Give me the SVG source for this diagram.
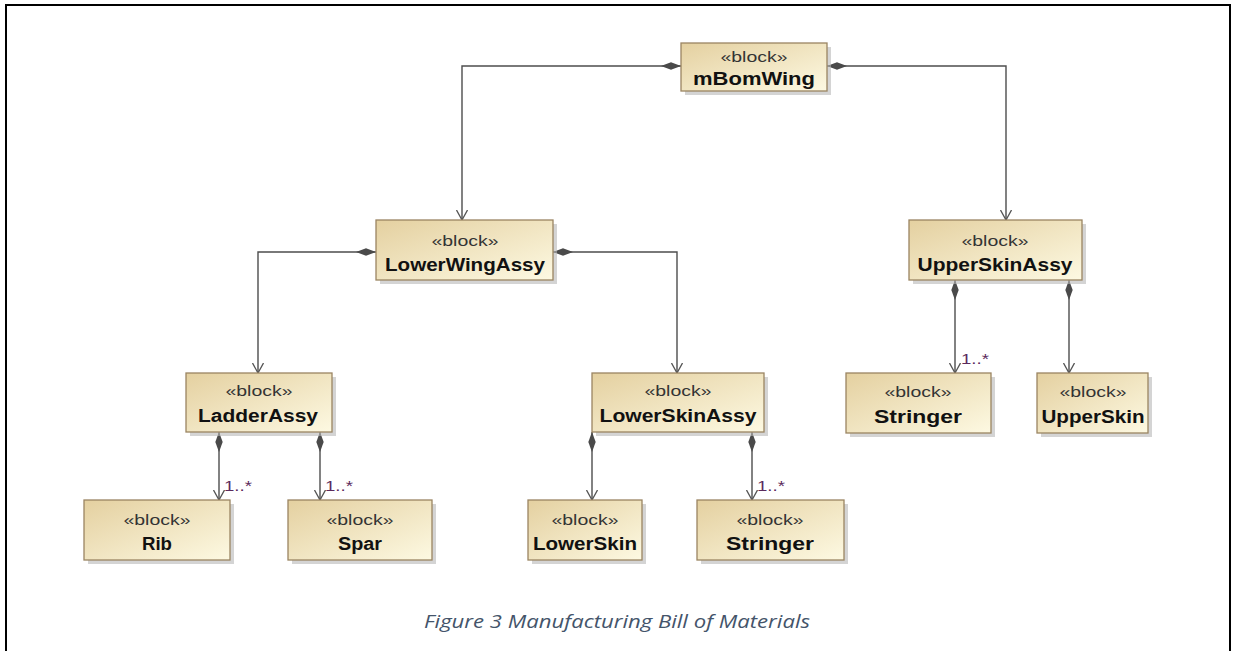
<svg xmlns="http://www.w3.org/2000/svg" width="1233" height="651" viewBox="0 0 1233 651">
<defs>
<linearGradient id="blk" x1="0" y1="0" x2="1" y2="1">
<stop offset="0" stop-color="#e4d0a0"/>
<stop offset="1" stop-color="#fdf9e2"/>
</linearGradient>
<marker id="dia" viewBox="0 0 20 8" refX="0" refY="4" markerWidth="20" markerHeight="8" markerUnits="userSpaceOnUse" orient="auto">
<path d="M0,4 L10,0.3 L20,4 L10,7.7 Z" fill="#4a4a4a"/>
</marker>
<marker id="arr" viewBox="0 0 10 12" refX="10" refY="6" markerWidth="10" markerHeight="12" markerUnits="userSpaceOnUse" orient="auto">
<path d="M0,0.5 L10,6 L0,11.5" fill="none" stroke="#555" stroke-width="1.3"/>
</marker>
</defs>
<style>
.box{fill:url(#blk);stroke:#9a8462;stroke-width:1.3}
.sh{fill:#b8b8b8;opacity:0.6}
.st{font-family:"Liberation Sans",Arial,sans-serif;font-size:15px;fill:#333;text-anchor:middle}
.nm{font-family:"Liberation Sans",Arial,sans-serif;font-size:18px;font-weight:bold;fill:#111;text-anchor:middle}
.ln{fill:none;stroke:#4d4d4d;stroke-width:1.4;marker-start:url(#dia);marker-end:url(#arr)}
.mul{font-family:"Liberation Sans",Arial,sans-serif;font-size:15px;fill:#5b2a5c}
</style>
<rect x="0" y="0" width="1233" height="651" fill="#fff"/>
<path d="M6,651 V5 H1230 V651" fill="none" stroke="#000" stroke-width="2"/>

<g id="connectors">
<path class="ln" d="M681,66 H462 V220"/>
<path class="ln" d="M827,66 H1006 V220"/>
<path class="ln" d="M376,252 H258 V373"/>
<path class="ln" d="M553,252 H677 V373"/>
<path class="ln" d="M219,432 V500"/>
<path class="ln" d="M320,432 V500"/>
<path class="ln" d="M592,432 V500"/>
<path class="ln" d="M752,432 V500"/>
<path class="ln" d="M955,280 V373"/>
<path class="ln" d="M1069,280 V373"/>
<text class="mul" x="224" y="491" textLength="28" lengthAdjust="spacingAndGlyphs">1..*</text>
<text class="mul" x="325" y="491" textLength="28" lengthAdjust="spacingAndGlyphs">1..*</text>
<text class="mul" x="757" y="491" textLength="28" lengthAdjust="spacingAndGlyphs">1..*</text>
<text class="mul" x="961" y="364" textLength="28" lengthAdjust="spacingAndGlyphs">1..*</text>
</g>

<g id="mBomWing">
<rect class="sh" x="685" y="47" width="146" height="48"/>
<rect class="box" x="681" y="43" width="146" height="48"/>
<text class="st" x="754" y="62" textLength="67" lengthAdjust="spacingAndGlyphs">«block»</text>
<text class="nm" x="754" y="85" textLength="122" lengthAdjust="spacingAndGlyphs">mBomWing</text>
</g>
<g id="LowerWingAssy">
<rect class="sh" x="380" y="224" width="177" height="60"/>
<rect class="box" x="376" y="220" width="177" height="60"/>
<text class="st" x="465" y="246" textLength="67" lengthAdjust="spacingAndGlyphs">«block»</text>
<text class="nm" x="465" y="271" textLength="160" lengthAdjust="spacingAndGlyphs">LowerWingAssy</text>
</g>
<g id="UpperSkinAssy">
<rect class="sh" x="913" y="224" width="173" height="60"/>
<rect class="box" x="909" y="220" width="173" height="60"/>
<text class="st" x="995" y="246" textLength="67" lengthAdjust="spacingAndGlyphs">«block»</text>
<text class="nm" x="995" y="271" textLength="155" lengthAdjust="spacingAndGlyphs">UpperSkinAssy</text>
</g>
<g id="LadderAssy">
<rect class="sh" x="190" y="377" width="146" height="59"/>
<rect class="box" x="186" y="373" width="146" height="59"/>
<text class="st" x="259" y="396" textLength="67" lengthAdjust="spacingAndGlyphs">«block»</text>
<text class="nm" x="258" y="422" textLength="120" lengthAdjust="spacingAndGlyphs">LadderAssy</text>
</g>
<g id="LowerSkinAssy">
<rect class="sh" x="596" y="377" width="172" height="59"/>
<rect class="box" x="592" y="373" width="172" height="59"/>
<text class="st" x="678" y="396" textLength="67" lengthAdjust="spacingAndGlyphs">«block»</text>
<text class="nm" x="678" y="422" textLength="157" lengthAdjust="spacingAndGlyphs">LowerSkinAssy</text>
</g>
<g id="Stringer1">
<rect class="sh" x="850" y="377" width="145" height="60"/>
<rect class="box" x="846" y="373" width="145" height="60"/>
<text class="st" x="918" y="397" textLength="67" lengthAdjust="spacingAndGlyphs">«block»</text>
<text class="nm" x="918" y="423" textLength="88" lengthAdjust="spacingAndGlyphs">Stringer</text>
</g>
<g id="UpperSkin">
<rect class="sh" x="1041" y="377" width="111" height="60"/>
<rect class="box" x="1037" y="373" width="111" height="60"/>
<text class="st" x="1093" y="397" textLength="67" lengthAdjust="spacingAndGlyphs">«block»</text>
<text class="nm" x="1093" y="423" textLength="103" lengthAdjust="spacingAndGlyphs">UpperSkin</text>
</g>
<g id="Rib">
<rect class="sh" x="88" y="504" width="146" height="60"/>
<rect class="box" x="84" y="500" width="146" height="60"/>
<text class="st" x="157" y="525" textLength="67" lengthAdjust="spacingAndGlyphs">«block»</text>
<text class="nm" x="157" y="550" textLength="30" lengthAdjust="spacingAndGlyphs">Rib</text>
</g>
<g id="Spar">
<rect class="sh" x="292" y="504" width="144" height="60"/>
<rect class="box" x="288" y="500" width="144" height="60"/>
<text class="st" x="360" y="525" textLength="67" lengthAdjust="spacingAndGlyphs">«block»</text>
<text class="nm" x="360" y="550" textLength="44" lengthAdjust="spacingAndGlyphs">Spar</text>
</g>
<g id="LowerSkin">
<rect class="sh" x="532" y="504" width="114" height="60"/>
<rect class="box" x="528" y="500" width="114" height="60"/>
<text class="st" x="585" y="525" textLength="67" lengthAdjust="spacingAndGlyphs">«block»</text>
<text class="nm" x="585" y="550" textLength="104" lengthAdjust="spacingAndGlyphs">LowerSkin</text>
</g>
<g id="Stringer2">
<rect class="sh" x="701" y="504" width="147" height="60"/>
<rect class="box" x="697" y="500" width="147" height="60"/>
<text class="st" x="770" y="525" textLength="67" lengthAdjust="spacingAndGlyphs">«block»</text>
<text class="nm" x="770" y="550" textLength="88" lengthAdjust="spacingAndGlyphs">Stringer</text>
</g>

<text x="617" y="628" text-anchor="middle" font-family="'Open Sans','Noto Sans',sans-serif" font-style="italic" font-size="18" fill="#44546a" textLength="386" lengthAdjust="spacingAndGlyphs">Figure 3 Manufacturing Bill of Materials</text>
</svg>
